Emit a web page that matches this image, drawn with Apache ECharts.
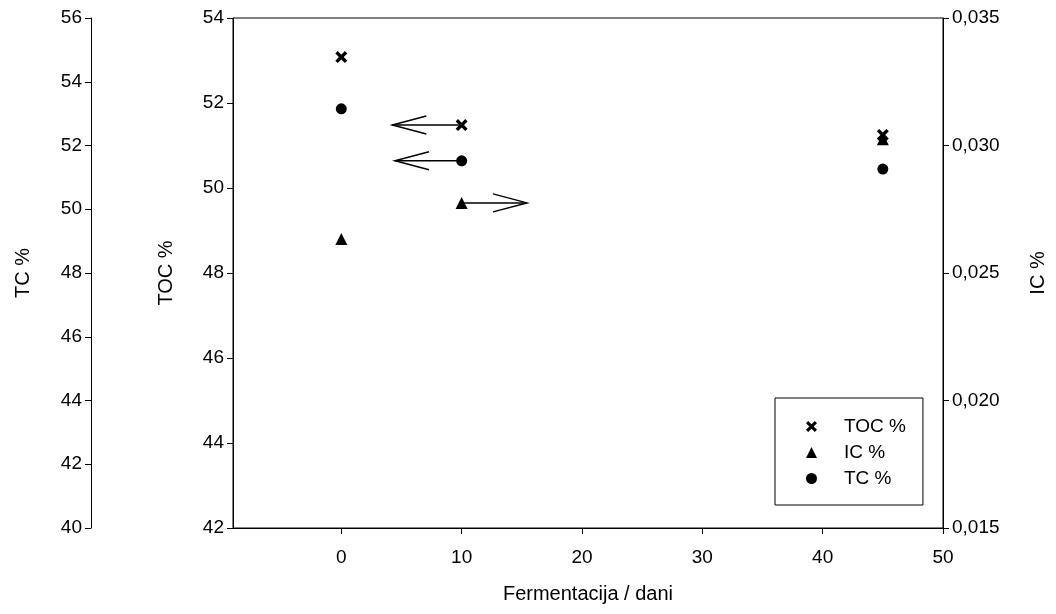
<!DOCTYPE html>
<html>
<head>
<meta charset="utf-8">
<script src="https://cdn.jsdelivr.net/npm/echarts@6/dist/echarts.min.js"></script>
<style>html,body{margin:0;padding:0;background:#fff}#c{width:1056px;height:614px}</style>
</head>
<body>
<div id="c"></div>
<script>
// Data (days of fermentation)
const days = [0, 10, 45];
const tocValues = [53.08, 51.48, 51.25];   // TOC % (left inner axis)
const icValues = [0.02633, 0.02775, 0.03025]; // IC % (right axis)
const tcValues = [53.15, 51.52, 51.26];    // TC % (left outer axis)
// Arrows: start day, end day (pointing to the series' axis)
const arrowDay = 10;
const arrowTocEnd = 4.24;
const arrowTcEnd = 4.46;
const arrowIcEnd = 15.43;
const xTicks = [0, 10, 20, 30, 40, 50];

const FONT = 'Liberation Sans, Arial, sans-serif';
const chart = echarts.init(document.getElementById('c'), null, {renderer: 'canvas'});

const xSym = 'path://M2,0 L5,3 L8,0 L10,2 L7,5 L10,8 L8,10 L5,7 L2,10 L0,8 L3,5 L0,2 Z';

function arrowRender() {
  return function (params, api) {
    const p0 = api.coord([api.value(0), api.value(1)]);
    const p1 = api.coord([api.value(2), api.value(1)]);
    const dir = p1[0] > p0[0] ? 1 : -1;
    const hl = 34, hw = 9;
    const st = {stroke: '#000', lineWidth: 1.5, fill: null};
    return {
      type: 'group',
      children: [
        {type: 'line', shape: {x1: p0[0], y1: p0[1], x2: p1[0], y2: p1[1]}, style: st},
        {type: 'polyline', shape: {points: [[p1[0] - dir * hl, p1[1] - hw], [p1[0], p1[1]], [p1[0] - dir * hl, p1[1] + hw]]}, style: st}
      ]
    };
  };
}

const labelStyle = {color: '#000', fontFamily: FONT, fontSize: 19};
const nameStyle = {color: '#000', fontFamily: FONT, fontSize: 20};
const axLine = {show: true, onZero: false, lineStyle: {color: '#000', width: 1}};
const axTick = {show: true, inside: false, length: 6, lineStyle: {color: '#000', width: 1}};
const markStyle = {color: '#000', opacity: 1};

const option = {
  backgroundColor: '#fff',
  animation: false,
  grid: {left: 233, right: 113, top: 18, bottom: 86, show: true, borderColor: '#000', borderWidth: 1, containLabel: false},
  legend: {
    orient: 'vertical', left: 775, top: 398,
    padding: [19, 17, 17, 31],
    borderColor: '#000', borderWidth: 1,
    itemWidth: 11, itemHeight: 11, itemGap: 7,
    data: ['TOC %', 'IC %', 'TC %'],
    itemStyle: {opacity: 1},
    textStyle: {color: '#000', fontFamily: FONT, fontSize: 19, padding: [0, 0, 0, 22]}
  },
  xAxis: {
    type: 'value', min: -9, max: 50,
    name: 'Fermentacija / dani', nameLocation: 'middle', nameGap: 56, nameTextStyle: nameStyle,
    axisLine: axLine,
    axisTick: Object.assign({}, axTick, {customValues: xTicks}),
    splitLine: {show: false},
    axisLabel: Object.assign({}, labelStyle, {margin: 20, customValues: xTicks})
  },
  yAxis: [
    {
      type: 'value', position: 'left', min: 42, max: 54, interval: 2,
      name: 'TOC %', nameLocation: 'middle', nameGap: 57, nameRotate: 90, nameTextStyle: nameStyle,
      axisLine: axLine, axisTick: axTick, splitLine: {show: false},
      axisLabel: Object.assign({}, labelStyle, {margin: 9})
    },
    {
      type: 'value', position: 'left', offset: 142, min: 40, max: 56, interval: 2,
      name: 'TC %', nameLocation: 'middle', nameGap: 58, nameRotate: 90, nameTextStyle: nameStyle,
      axisLine: axLine, axisTick: axTick, splitLine: {show: false},
      axisLabel: Object.assign({}, labelStyle, {margin: 9})
    },
    {
      type: 'value', position: 'right', min: 0.015, max: 0.035, interval: 0.005,
      name: 'IC %', nameLocation: 'middle', nameGap: 85, nameRotate: 90, nameTextStyle: nameStyle,
      axisLine: axLine, axisTick: axTick, splitLine: {show: false},
      axisLabel: Object.assign({}, labelStyle, {margin: 9, formatter: v => v.toFixed(3).replace('.', ',')})
    }
  ],
  series: [
    {
      name: 'TOC %', type: 'scatter', yAxisIndex: 0, symbol: xSym, symbolSize: 12,
      itemStyle: markStyle, z: 5,
      data: days.map((d, i) => [d, tocValues[i]])
    },
    {
      name: 'IC %', type: 'scatter', yAxisIndex: 2, symbol: 'triangle', symbolSize: 12,
      itemStyle: markStyle, z: 5,
      data: days.map((d, i) => [d, icValues[i]])
    },
    {
      name: 'TC %', type: 'scatter', yAxisIndex: 1, symbol: 'circle', symbolSize: 11,
      itemStyle: markStyle, z: 5,
      data: days.map((d, i) => [d, tcValues[i]])
    },
    {
      type: 'custom', yAxisIndex: 0, renderItem: arrowRender(), silent: true, z: 4,
      data: [[arrowDay, tocValues[1], arrowTocEnd]]
    },
    {
      type: 'custom', yAxisIndex: 1, renderItem: arrowRender(), silent: true, z: 4,
      data: [[arrowDay, tcValues[1], arrowTcEnd]]
    },
    {
      type: 'custom', yAxisIndex: 2, renderItem: arrowRender(), silent: true, z: 4,
      data: [[arrowDay, icValues[1], arrowIcEnd]]
    }
  ]
};
chart.setOption(option);
</script>
</body>
</html>
